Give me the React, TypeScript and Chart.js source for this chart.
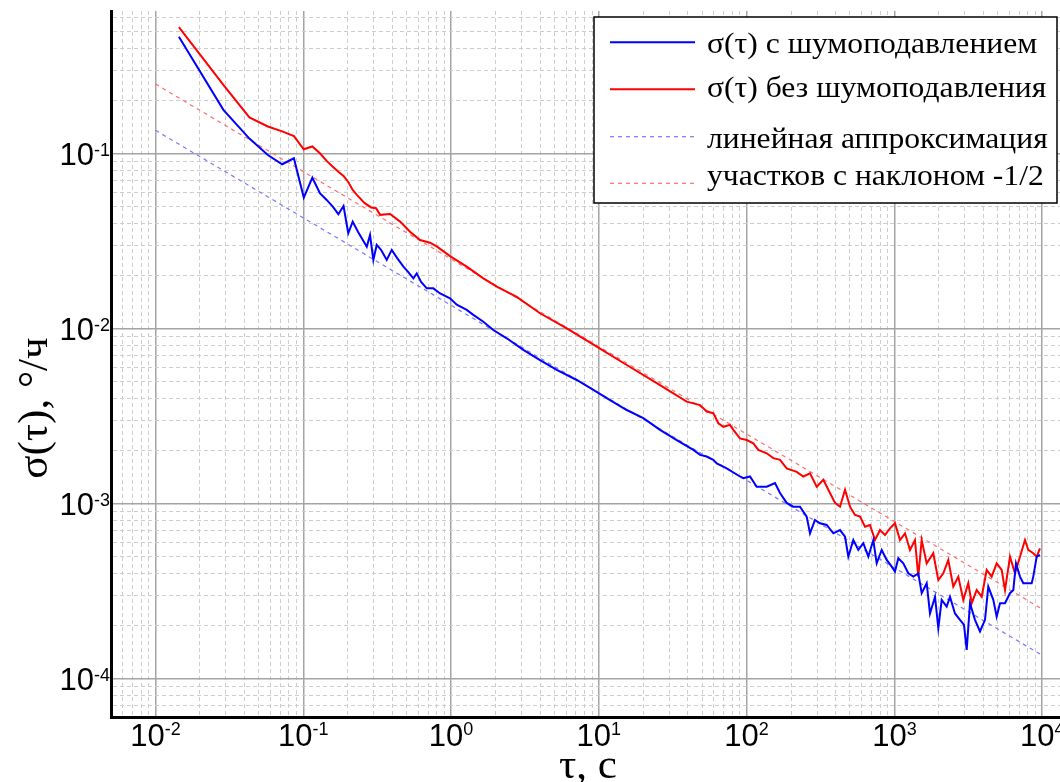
import React, { useEffect, useRef } from "react";
import { Chart, registerables } from "chart.js";

Chart.register(...registerables);

// ---- data ----
const tauRed = [0.0144, 0.0288, 0.0432, 0.0576, 0.072, 0.0864, 0.1008, 0.1152, 0.1296, 0.144, 0.1584, 0.1728, 0.1872, 0.2016, 0.216, 0.2304, 0.2592, 0.288,
  0.311, 0.331, 0.387, 0.452, 0.528, 0.617, 0.721, 0.804, 0.984, 1.277,
  1.654, 2.038, 2.783, 4.0, 6.07, 9.68, 15.45, 24.65, 39.3, 48.4,
  53.7, 59.5, 64.4, 69.6, 77.2, 81.3, 90.2, 100.2, 111.0, 120.0,
  136.8, 151.6, 168.3, 186.7, 218.3, 241.8, 268.5, 298.1, 330.4, 366.6,
  396.4, 428.5, 463.4, 500.8, 541.3, 585.3, 632.5, 683.8, 739.2, 799.1,
  863.9, 933.7, 1009, 1091, 1180, 1275, 1378, 1451, 1530, 1654,
  1833, 1982, 2143, 2316, 2503, 2706, 2926, 3162, 3334, 3605,
  3897, 4212, 4553, 4922, 5321, 5603, 6056, 6546, 7077, 7649,
  8054, 8706, 9180, 9663];
const sigmaRed = [0.528, 0.247, 0.161, 0.143, 0.134, 0.126, 0.106, 0.110, 0.1005, 0.0909, 0.0843, 0.0789, 0.0746, 0.0689, 0.0620, 0.0581, 0.0523, 0.0493,
  0.0488, 0.0447, 0.0452, 0.0409, 0.0358, 0.0321, 0.0310, 0.0294, 0.0260, 0.0226,
  0.0194, 0.0174, 0.0152, 0.01225, 0.01005, 0.00789, 0.0062, 0.00488, 0.00383, 0.00366,
  0.00336, 0.00329, 0.00288, 0.00275, 0.00282, 0.00264, 0.00236, 0.00231, 0.00221, 0.00203,
  0.00194, 0.00182, 0.00178, 0.00159, 0.00152, 0.00143, 0.00149, 0.00125, 0.00137, 0.00115,
  0.00101, 0.000961, 0.00120, 0.000961, 0.000862, 0.000843, 0.000739, 0.000756, 0.000620, 0.000707,
  0.000662, 0.000723, 0.000773, 0.000620, 0.000677, 0.000544, 0.000620, 0.000383, 0.000620, 0.000456,
  0.000521, 0.000366, 0.000400, 0.000477, 0.000336, 0.000383, 0.000282, 0.000351, 0.000270, 0.000321,
  0.000294, 0.000418, 0.000383, 0.000456, 0.000418, 0.000321, 0.000498, 0.000400, 0.000498, 0.000620,
  0.000544, 0.000521, 0.000498, 0.000556];

const tauBlue = [0.0144, 0.0288, 0.0432, 0.0576, 0.072, 0.0864, 0.1008, 0.1152, 0.1296, 0.144, 0.1584, 0.1728, 0.1872, 0.2016, 0.216,
  0.235, 0.269, 0.283, 0.298, 0.314,
  0.336, 0.367, 0.397, 0.431, 0.476, 0.512, 0.556, 0.586, 0.627, 0.685,
  0.759, 0.843, 0.984, 1.093, 1.277, 1.415, 1.654, 1.932, 2.381, 3.085,
  4.0, 5.19, 7.09, 9.18, 11.91, 15.45, 20.0, 25.95, 33.65, 43.6,
  48.4, 53.7, 59.5, 62.8, 73.3, 90.2, 95.0, 105.4, 117.0, 136.8,
  155.6, 168.3, 186.7, 207.0, 229.7, 255.0, 268.5, 290.2, 313.8, 348.3,
  386.0, 428.5, 463.4, 487.8, 527.3, 570.0, 616.2, 666.1, 720.0, 759.0,
  820.5, 887.0, 958.8, 1009, 1063, 1149, 1242, 1343, 1451, 1530,
  1654, 1741, 1883, 1982, 2089, 2258, 2378, 2570, 2779, 2958,
  3085, 3248, 3510, 3795, 4103, 4318, 4669, 4922, 5183, 5603,
  6056, 6377, 6648, 7077, 7450, 8492, 8706, 9180, 9663];
const sigmaBlue = [0.466, 0.178, 0.122, 0.0983, 0.0870, 0.0941, 0.0561, 0.0729, 0.0594, 0.0544, 0.0498, 0.0451, 0.0502, 0.0351, 0.0409,
  0.0357, 0.0294, 0.0343, 0.0247, 0.0301,
  0.0282, 0.0247, 0.0282, 0.0254, 0.0226, 0.0211, 0.0194, 0.0207, 0.0185, 0.0170,
  0.0170, 0.0159, 0.0149, 0.0137, 0.0128, 0.0120, 0.01096, 0.00983, 0.00881, 0.00756,
  0.00662, 0.00581, 0.00509, 0.00447, 0.00391, 0.00343, 0.00308, 0.00264, 0.00231, 0.00203,
  0.00190, 0.00186, 0.00178, 0.00170, 0.00159, 0.00143, 0.00140, 0.00143, 0.00125, 0.00125,
  0.00131, 0.00115, 0.00101, 0.000961, 0.000961, 0.000843, 0.000677, 0.000807, 0.000773, 0.000756,
  0.000677, 0.000707, 0.000648, 0.000498, 0.000620, 0.000544, 0.000594, 0.000498, 0.000620, 0.000456,
  0.000544, 0.000477, 0.000437, 0.000409, 0.000488, 0.000456, 0.000400, 0.000383, 0.000400, 0.000308,
  0.000351, 0.000236, 0.000294, 0.000194, 0.000282, 0.000258, 0.000294, 0.000236, 0.000217, 0.000203,
  0.000146, 0.000270, 0.000217, 0.000186, 0.000217, 0.000336, 0.000282, 0.000226, 0.000270, 0.000270,
  0.000308, 0.000321, 0.000456, 0.000383, 0.000351, 0.000351, 0.000383, 0.000498, 0.000509];

const fitTau = [0.01, 10000];
const fitBlue = [0.136, 0.000136];
const fitRed = [0.25, 0.00025];

const xDecades = [-2, -1, 0, 1, 2, 3, 4];
const yDecades = [-1, -2, -3, -4];
const mantissas = [1, 2, 3, 4, 5, 6, 7, 8, 9];

const seriesLabels = [
  "σ(τ) с шумоподавлением",
  "σ(τ) без шумоподавления",
  "линейная аппроксимация",
  "участков с наклоном -1/2",
];
const xTitle = "τ, с";
const yTitle = "σ(τ), °/ч";

// ---- styling ----
const BLUE = "#0000ff";
const RED = "#ff0000";
const BLUE_FIT = "#7878ff";
const RED_FIT = "#ff6e6e";
const SANS = '"Liberation Sans", Arial, sans-serif';
const SERIF = '"Liberation Serif", "Times New Roman", serif';

const isMajor = (v: number) => {
  const l = Math.log10(v);
  return Math.abs(l - Math.round(l)) < 1e-6;
};

const buildLogTicks = (scale: any) => {
  const out: any[] = [];
  for (let e = -6; e <= 6; e++) {
    for (const m of mantissas) {
      const v = m * Math.pow(10, e);
      if (v > scale.min * 1.0001 && v < scale.max * 0.9999) out.push({ value: v, major: m === 1 });
    }
  }
  scale.ticks = out;
};

const gridColor = (c: any) => (c.tick && isMajor(c.tick.value) ? "#a4a4a4" : "#cdcdcd");
const gridWidth = (c: any) => (c.tick && isMajor(c.tick.value) ? 1.5 : 1);
const gridDash = (c: any) => (c.tick && !isMajor(c.tick.value) ? [4, 3] : []);

const decorPlugin = {
  id: "decor",
  afterDraw(chart: any) {
    const { ctx, chartArea } = chart;
    const xs = chart.scales.x;
    const ys = chart.scales.y;
    ctx.save();
    ctx.fillStyle = "#000";
    ctx.textAlign = "left";
    ctx.textBaseline = "alphabetic";

    // x tick labels 10^n
    xDecades.forEach((e) => {
      const px = xs.getPixelForValue(Math.pow(10, e));
      ctx.font = `31px ${SANS}`;
      const wb = ctx.measureText("10").width;
      ctx.font = `18px ${SANS}`;
      const exp = String(e);
      const we = ctx.measureText(exp).width;
      const x0 = px - (wb + we) / 2;
      ctx.font = `31px ${SANS}`;
      ctx.fillText("10", x0, chartArea.bottom + 29);
      ctx.font = `18px ${SANS}`;
      ctx.fillText(exp, x0 + wb, chartArea.bottom + 18);
    });

    // y tick labels 10^n
    yDecades.forEach((e) => {
      const py = ys.getPixelForValue(Math.pow(10, e));
      ctx.font = `18px ${SANS}`;
      const exp = String(e);
      const we = ctx.measureText(exp).width;
      ctx.font = `31px ${SANS}`;
      const wb = ctx.measureText("10").width;
      const right = chartArea.left - 1;
      ctx.fillText("10", right - we - wb, py + 11);
      ctx.font = `18px ${SANS}`;
      ctx.fillText(exp, right - we, py + 2);
    });

    // axis titles
    ctx.font = `43px ${SERIF}`;
    ctx.textAlign = "center";
    ctx.fillText(xTitle, 588, 778);
    ctx.save();
    ctx.translate(47, 408);
    ctx.rotate(-Math.PI / 2);
    ctx.fillText(yTitle, 0, 0);
    ctx.restore();

    // legend box
    const bx = 594, by = 17, bw = 463, bh = 186;
    ctx.fillStyle = "#fff";
    ctx.fillRect(bx, by, bw, bh);
    ctx.strokeStyle = "#000";
    ctx.lineWidth = 1.5;
    ctx.setLineDash([]);
    ctx.strokeRect(bx, by, bw, bh);

    const lineYs = [42.3, 89.3, 136.7, 183.3];
    const textYs = [53.3, 97.3, 147.5, 185];
    const colors = [BLUE, RED, BLUE_FIT, RED_FIT];
    const dashed = [false, false, true, true];
    seriesLabels.forEach((lab, i) => {
      ctx.beginPath();
      ctx.strokeStyle = colors[i];
      ctx.lineWidth = dashed[i] ? 1.2 : 2;
      ctx.setLineDash(dashed[i] ? [4, 4] : []);
      ctx.moveTo(610, lineYs[i]);
      ctx.lineTo(695, lineYs[i]);
      ctx.stroke();
      ctx.setLineDash([]);
      ctx.fillStyle = "#000";
      ctx.textAlign = "left";
      ctx.font = `29px ${SERIF}`;
      ctx.save();
      ctx.translate(707, textYs[i]);
      ctx.scale(1.09, 1);
      ctx.fillText(lab, 0, 0);
      ctx.restore();
    });
    ctx.restore();
  },
};

export default function App() {
  const ref = useRef<HTMLCanvasElement>(null);
  useEffect(() => {
    const pts = (xs: number[], ys: number[]) => xs.map((x, i) => ({ x, y: ys[i] }));
    const chart = new Chart(ref.current as HTMLCanvasElement, {
      type: "line",
      data: {
        datasets: [
          { label: seriesLabels[0], data: pts(tauBlue, sigmaBlue), borderColor: BLUE, borderWidth: 2, pointRadius: 0, tension: 0, order: 0 },
          { label: seriesLabels[1], data: pts(tauRed, sigmaRed), borderColor: RED, borderWidth: 2, pointRadius: 0, tension: 0, order: 1 },
          { label: seriesLabels[2], data: pts(fitTau, fitBlue), borderColor: BLUE_FIT, borderWidth: 1.2, borderDash: [4, 4], pointRadius: 0, order: 2 },
          { label: seriesLabels[3], data: pts(fitTau, fitRed), borderColor: RED_FIT, borderWidth: 1.2, borderDash: [4, 4], pointRadius: 0, order: 3 },
        ],
      } as any,
      options: {
        animation: false,
        responsive: false,
        devicePixelRatio: 1,
        layout: { padding: { left: 111, top: 11, right: 0, bottom: 65 } },
        plugins: { legend: { display: false }, tooltip: { enabled: false } },
        scales: {
          x: {
            type: "logarithmic",
            min: 0.005,
            max: 13200,
            bounds: "data",
            afterBuildTicks: buildLogTicks,
            ticks: { display: false },
            grid: { drawTicks: false, color: gridColor, lineWidth: gridWidth },
            border: { display: true, color: "#000", width: 3, dash: gridDash },
          },
          y: {
            type: "logarithmic",
            min: 6.04e-5,
            max: 0.6535,
            bounds: "data",
            afterBuildTicks: buildLogTicks,
            ticks: { display: false },
            grid: { drawTicks: false, color: gridColor, lineWidth: gridWidth },
            border: { display: true, color: "#000", width: 3, dash: gridDash },
          },
        },
      } as any,
      plugins: [decorPlugin],
    });
    return () => chart.destroy();
  }, []);
  return (
    <div style={{ position: "fixed", left: 0, top: 0, width: 1060, height: 782, background: "#fff" }}>
      <canvas ref={ref} width={1060} height={782} style={{ display: "block", width: 1060, height: 782 }} />
    </div>
  );
}
